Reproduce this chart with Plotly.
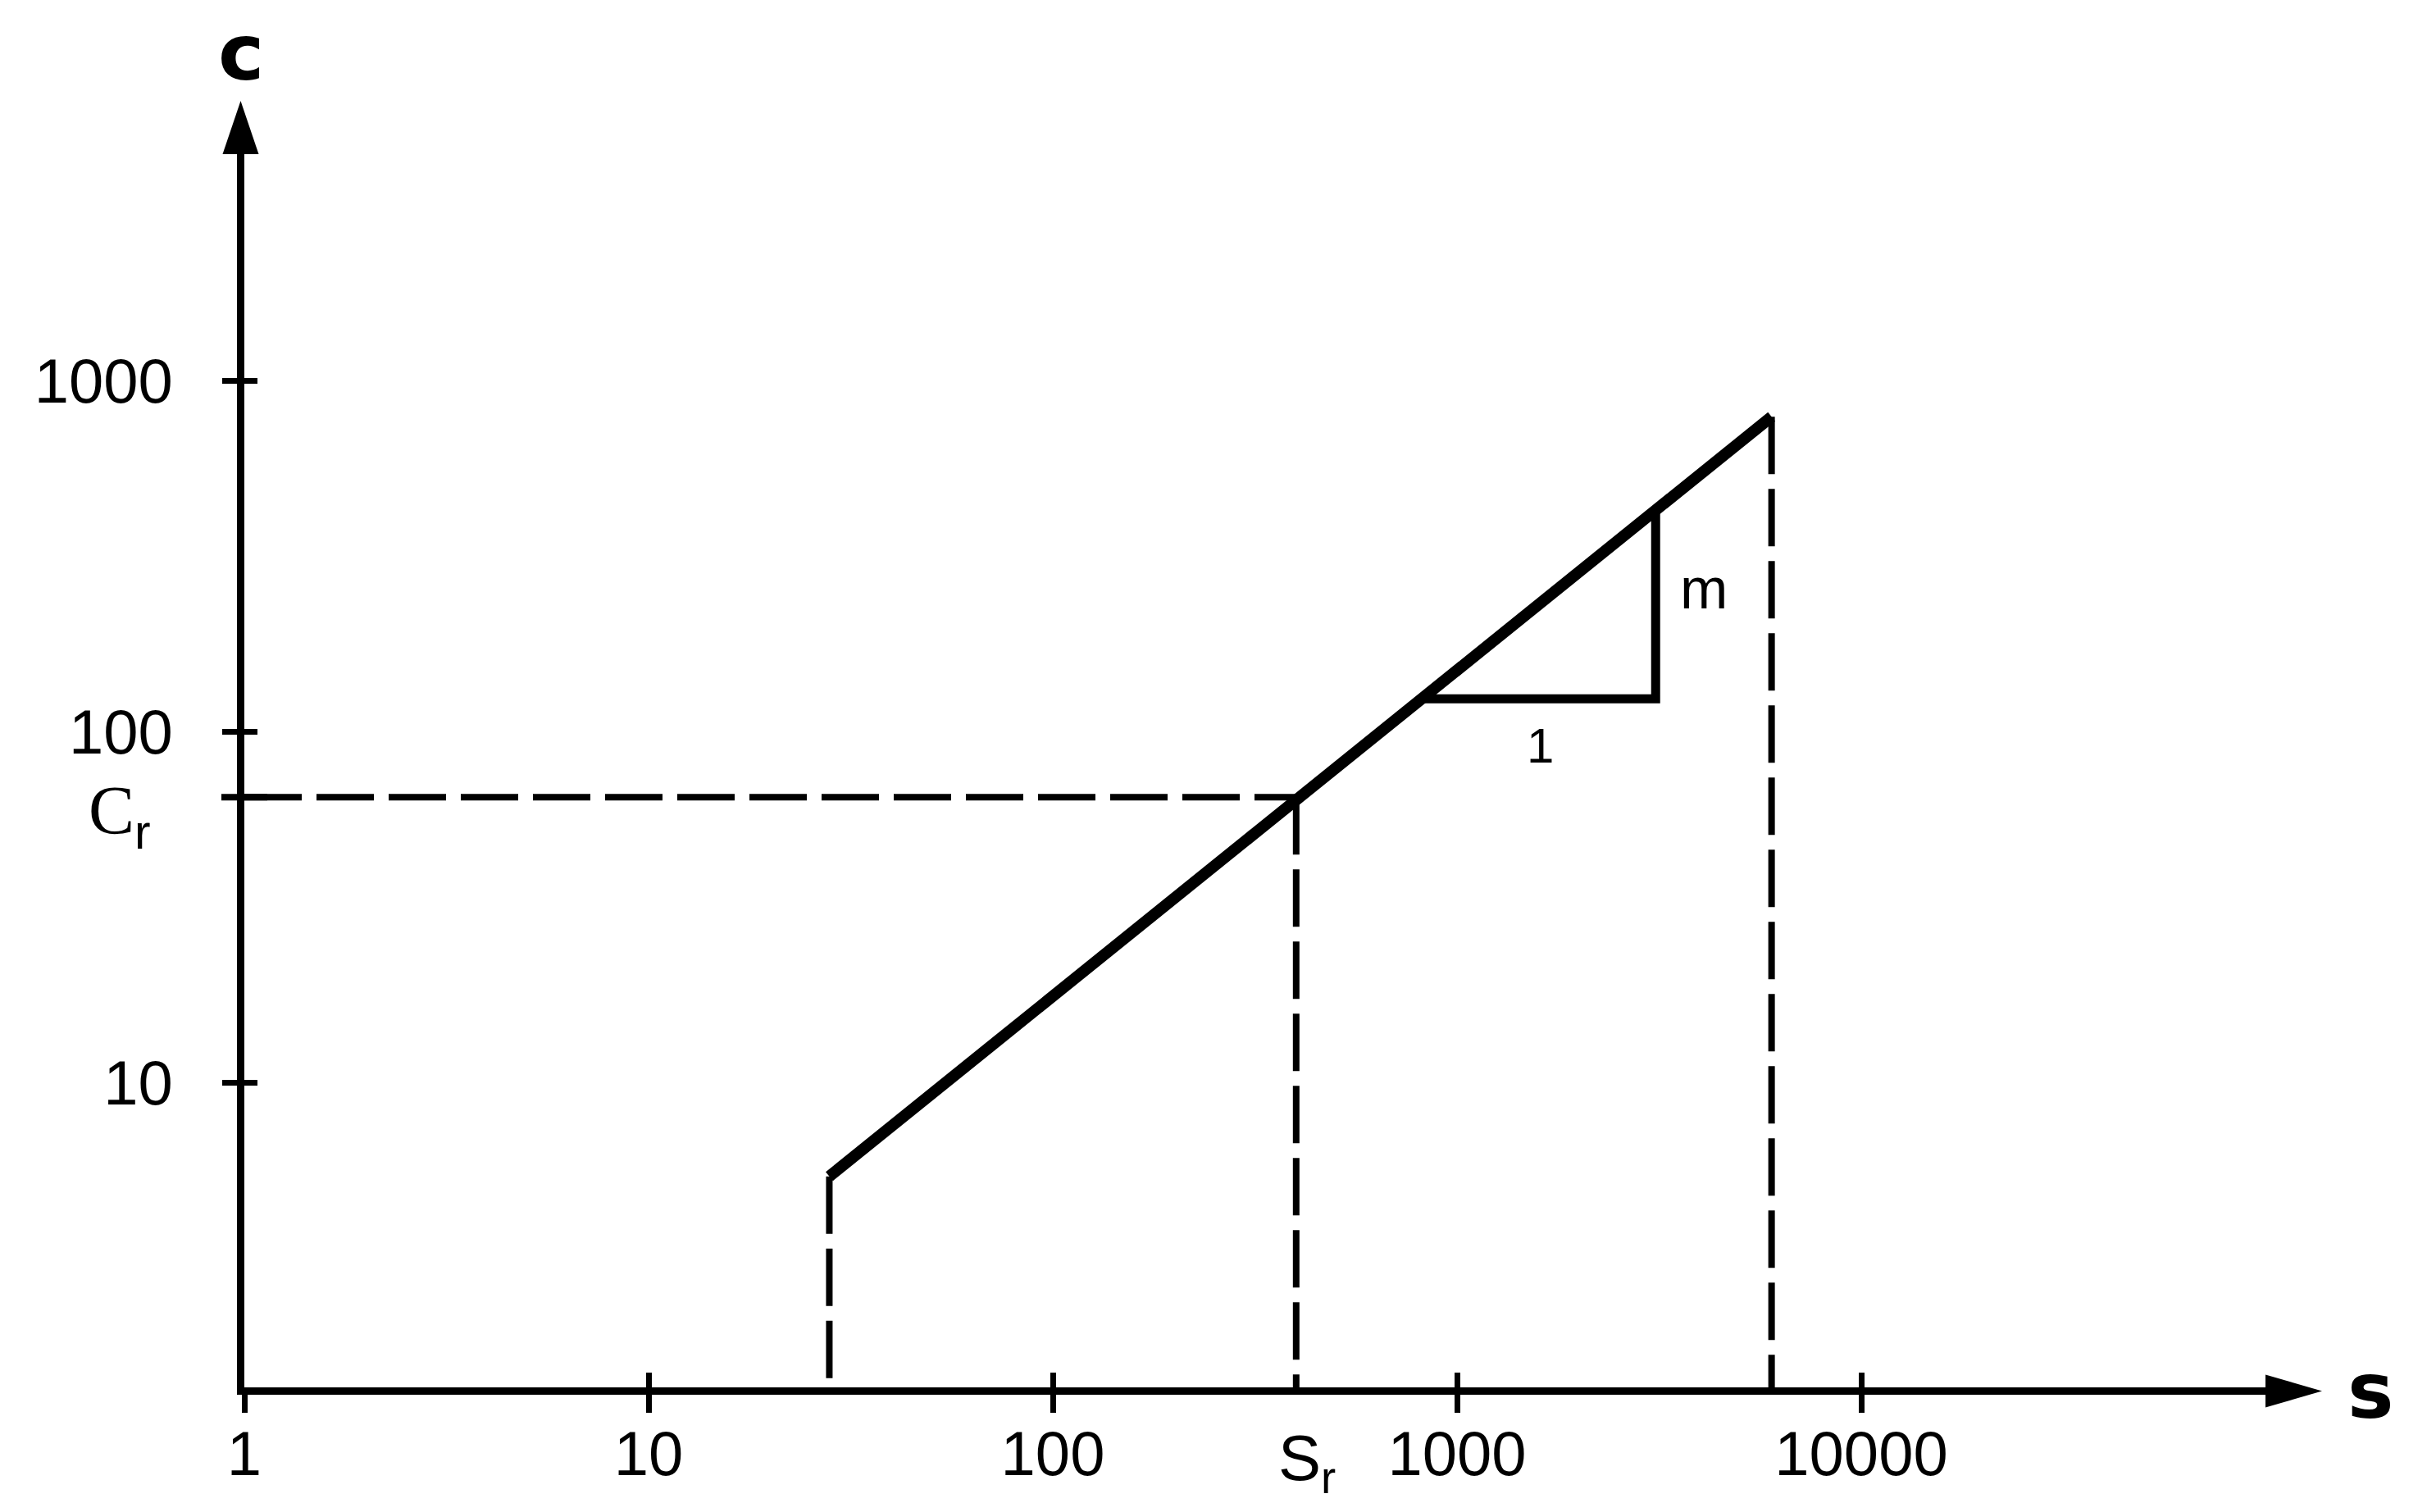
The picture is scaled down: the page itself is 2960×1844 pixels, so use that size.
import numpy as np
import plotly.graph_objects as go

# values
s_line = [28, 6000]       # s at the two ends of the solid line
c_line = [5.4, 790]       # c at the two ends of the solid line
s_r = 400                 # S_r
c_r = 65                  # C_r
tri_s = [830, 3100]       # slope triangle, horizontal leg
tri_c = [124, 420]        # slope triangle, vertical leg

x_ticks = [1, 10, 100, 1000, 10000]
x_ticktext = ["1", "10", "100", "1000", "10000"]
y_ticks = [10, 100, 1000]
y_ticktext = ["10", "100", "1000"]

x_range = [0, 5.0]          # log10 units
y_range = [0.131, 3.646]

ink = "black"
tick_font = dict(family="Liberation Sans", size=76, color=ink)

fig = go.Figure()

# solid line
fig.add_trace(go.Scatter(x=s_line, y=c_line, mode="lines",
                         line=dict(color=ink, width=14)))

# slope triangle
fig.add_trace(go.Scatter(x=[tri_s[0], tri_s[1], tri_s[1]],
                         y=[tri_c[0], tri_c[0], tri_c[1]],
                         mode="lines", line=dict(color=ink, width=11)))

# dashed drop lines (run down to c=1 / start at s=1, clipped by the axes)
dash_x = [1, s_r, None, s_r, s_r, None, s_line[0], s_line[0], None, s_line[1], s_line[1]]
dash_y = [c_r, c_r, None, c_r, 1, None, c_line[0], 1, None, c_line[1], 1]
fig.add_trace(go.Scatter(x=dash_x, y=dash_y, mode="lines",
                         line=dict(color=ink, width=8, dash="70px,18px")))

# tick mark for C_r on the c axis
fig.add_trace(go.Scatter(x=[1], y=[c_r], mode="markers", cliponaxis=False,
                         marker=dict(symbol="line-ew", size=40,
                                     line=dict(color=ink, width=8))))

# dummy trace so the overlay axes (inner half of the ticks) get drawn
fig.add_trace(go.Scatter(x=[None], y=[None], xaxis="x2", yaxis="y2", showlegend=False))

axis_common = dict(type="log", showgrid=False, zeroline=False, automargin=False,
                   tickcolor=ink, tickwidth=7)

# page body has an 8px margin, so the figure is offset a little to compensate
fig.update_layout(
    width=2960, height=1844,
    margin=dict(l=290, r=205, t=180, b=160),
    paper_bgcolor="white", plot_bgcolor="white",
    showlegend=False,
    hovermode=False,
    xaxis=dict(**axis_common, range=x_range, tickvals=x_ticks, ticktext=x_ticktext,
               ticks="outside", ticklen=22, showline=True, linewidth=9, linecolor=ink,
               tickfont=tick_font, ticklabelstandoff=-15),
    yaxis=dict(**axis_common, range=y_range, tickvals=y_ticks, ticktext=y_ticktext,
               ticks="outside", ticklen=18, showline=True, linewidth=9, linecolor=ink,
               tickfont=tick_font, ticklabelstandoff=45),
    xaxis2=dict(**axis_common, range=x_range, overlaying="x", anchor="y", side="bottom",
                tickvals=x_ticks[1:], ticks="inside", ticklen=18,
                showticklabels=False, showline=False),
    yaxis2=dict(**axis_common, range=y_range, overlaying="y", anchor="x", side="left",
                tickvals=y_ticks, ticks="inside", ticklen=16,
                showticklabels=False, showline=False),
)

# arrow heads on the axes (axis lines sit half a line width outside the plot area)
fig.add_shape(type="path", xref="paper", yref="paper", xsizemode="pixel", ysizemode="pixel",
              xanchor=1, yanchor=0, path="M 0,-24.5 L 69,-4.5 L 0,15.5 Z",
              fillcolor=ink, line=dict(width=0))
fig.add_shape(type="path", xref="paper", yref="paper", xsizemode="pixel", ysizemode="pixel",
              xanchor=0, yanchor=1, path="M -26.5,0 L -4.5,65 L 17.5,0 Z",
              fillcolor=ink, line=dict(width=0))

# axis names
fig.add_annotation(text="<b>c</b>", xref="paper", yref="paper", x=0, y=1,
                   xanchor="center", yanchor="middle", showarrow=False, xshift=-4, yshift=124,
                   font=dict(family="DejaVu Sans", size=95, color=ink))
fig.add_annotation(text="<b>s</b>", xref="paper", yref="paper", x=1, y=0,
                   xanchor="center", yanchor="middle", showarrow=False,
                   xshift=128, yshift=-4, font=dict(family="DejaVu Sans", size=95, color=ink))

# C_r and S_r labels
fig.add_annotation(text="C<sub><span style='font-family:Liberation Sans'>r</span></sub>",
                   xref="paper", yref="y", x=0, y=np.log10(c_r), xanchor="right", yanchor="middle",
                   xshift=-112, yshift=-22, showarrow=False,
                   font=dict(family="Liberation Serif", size=84, color=ink))
fig.add_annotation(text="S<sub>r</sub>", xref="x", yref="paper", x=np.log10(s_r), y=0,
                   xanchor="left", yanchor="top", xshift=-24, yshift=-40, showarrow=False,
                   font=dict(family="Liberation Sans", size=78, color=ink))

# slope triangle labels
fig.add_annotation(text="m", x=np.log10(tri_s[1]), y=np.mean(np.log10(tri_c)),
                   xanchor="left", xshift=28, yshift=21, showarrow=False,
                   font=dict(family="Liberation Sans", size=70, color=ink))
fig.add_annotation(text="1", x=np.mean(np.log10(tri_s)), y=np.log10(tri_c[0]),
                   yanchor="middle", yshift=-57, showarrow=False,
                   font=dict(family="Liberation Sans", size=60, color=ink))

fig.write_html("out.html")
